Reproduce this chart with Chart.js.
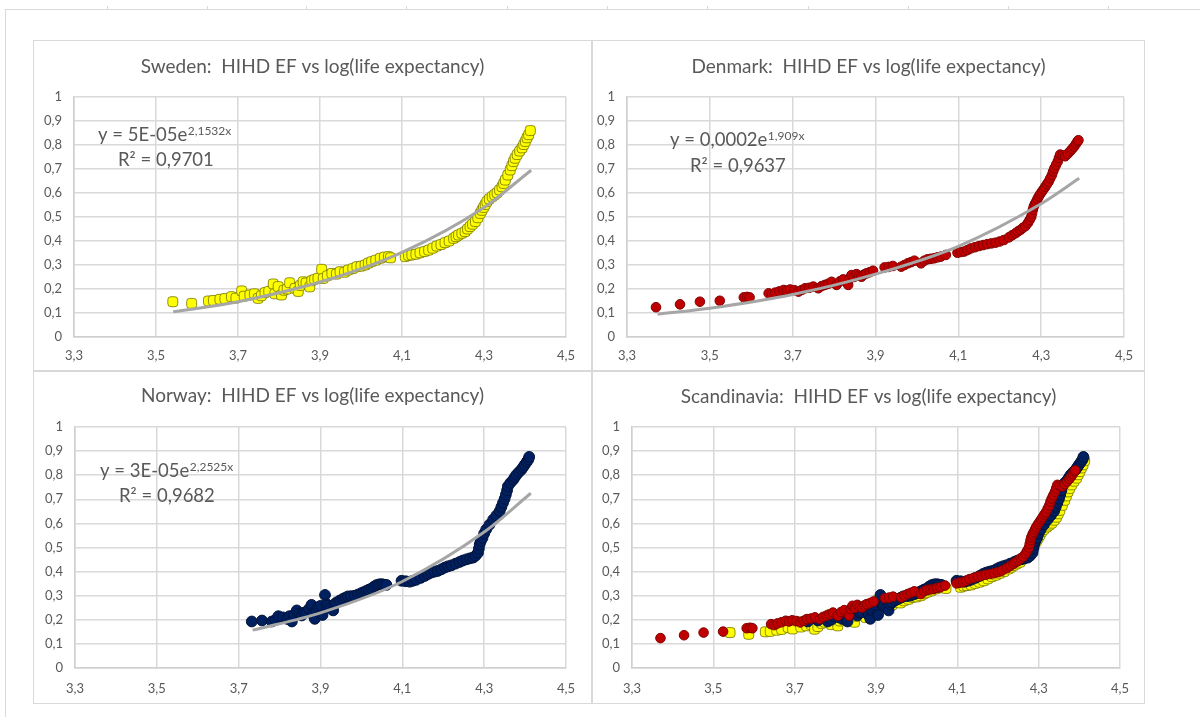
<!DOCTYPE html>
<html>
<head>
<meta charset="utf-8">
<title>HIHD EF vs log(life expectancy)</title>
<script src="https://cdn.jsdelivr.net/npm/chart.js@4/dist/chart.umd.min.js"></script>
<style>
    body {
        margin: 0;
        width: 1200px;
        height: 717px;
        background: #fff;
        position: relative;
        overflow: hidden;
        font-family: Lato, sans-serif;
    }
    .sheet-top { position: absolute; left: 5px; top: 9px; width: 1195px; border-top: 1px solid #d9d9d9; }
    .sheet-left { position: absolute; left: 5px; top: 9px; height: 708px; border-left: 1px solid #d9d9d9; }
    .col-mark { position: absolute; top: 6px; width: 1px; height: 3px; background: #d9d9d9; }
    .panel { position: absolute; border: 1px solid #d9d9d9; background: #fff; }
    .panel canvas { display: block; }
</style>
</head>
<body>
<div class="sheet-top"></div>
<div class="sheet-left"></div>
<div id="marks"></div>

<div class="panel" style="left:33px; top:40px; width:557px; height:329px;"><canvas id="sweden" width="557" height="329"></canvas></div>
<div class="panel" style="left:592px; top:40px; width:551px; height:329px;"><canvas id="denmark" width="551" height="329"></canvas></div>
<div class="panel" style="left:33px; top:371px; width:557px; height:331px;"><canvas id="norway" width="557" height="331"></canvas></div>
<div class="panel" style="left:592px; top:371px; width:551px; height:331px;"><canvas id="scandinavia" width="551" height="331"></canvas></div>

<script>
const xTickLabels = ["3,3", "3,5", "3,7", "3,9", "4,1", "4,3", "4,5"];
const yTickLabels = ["0", "0,1", "0,2", "0,3", "0,4", "0,5", "0,6", "0,7", "0,8", "0,9", "1"];

// Sweden: log(life expectancy) and HIHD EF
const swedenLogLE = [3.541, 3.587, 3.628, 3.640, 3.656, 3.668, 3.684, 3.695, 3.709, 3.715, 3.729, 3.740, 3.749, 3.757, 3.766, 3.775, 3.786, 3.790, 3.798, 3.806,
    3.812, 3.820, 3.826, 3.839, 3.847, 3.852, 3.859, 3.866, 3.875, 3.880, 3.887, 3.895, 3.904, 3.908, 3.918, 3.929, 3.940, 3.949, 3.960, 3.969,
    3.980, 3.990, 4.000, 4.010, 4.018, 4.026, 4.036, 4.047, 4.057, 4.067, 4.072, 4.108, 4.116, 4.124, 4.134, 4.144, 4.155, 4.165, 4.175, 4.185,
    4.195, 4.205, 4.215, 4.226, 4.232, 4.238, 4.246, 4.254, 4.260, 4.266, 4.272, 4.279, 4.285, 4.291, 4.295, 4.299, 4.303, 4.307, 4.313, 4.320,
    4.326, 4.332, 4.338, 4.344, 4.348, 4.352, 4.358, 4.364, 4.368, 4.372, 4.376, 4.381, 4.387, 4.393, 4.397, 4.401, 4.405, 4.409, 4.413];
const swedenEF = [0.147, 0.140, 0.150, 0.152, 0.157, 0.160, 0.168, 0.162, 0.192, 0.170, 0.175, 0.180, 0.161, 0.172, 0.185, 0.190, 0.221, 0.180, 0.210, 0.175,
    0.195, 0.200, 0.226, 0.203, 0.190, 0.215, 0.230, 0.225, 0.209, 0.235, 0.240, 0.245, 0.282, 0.244, 0.255, 0.265, 0.262, 0.272, 0.270, 0.279,
    0.285, 0.293, 0.295, 0.300, 0.308, 0.314, 0.320, 0.328, 0.333, 0.335, 0.330, 0.335, 0.340, 0.342, 0.345, 0.351, 0.356, 0.362, 0.370, 0.379,
    0.385, 0.393, 0.400, 0.411, 0.418, 0.425, 0.432, 0.439, 0.450, 0.460, 0.470, 0.481, 0.497, 0.515, 0.528, 0.540, 0.552, 0.564, 0.575, 0.585,
    0.593, 0.601, 0.613, 0.626, 0.640, 0.654, 0.675, 0.696, 0.714, 0.731, 0.745, 0.760, 0.775, 0.788, 0.802, 0.815, 0.830, 0.843, 0.860];

// Denmark
const denmarkLogLE = [3.370, 3.428, 3.476, 3.524, 3.582, 3.590, 3.596, 3.642, 3.650, 3.658, 3.668, 3.678, 3.686, 3.694, 3.704, 3.714, 3.722, 3.730, 3.740, 3.750,
    3.762, 3.770, 3.778, 3.786, 3.794, 3.806, 3.814, 3.822, 3.834, 3.838, 3.842, 3.848, 3.854, 3.860, 3.866, 3.872, 3.878, 3.886, 3.894, 3.922,
    3.932, 3.942, 3.962, 3.970, 3.978, 3.986, 3.994, 4.010, 4.018, 4.026, 4.034, 4.042, 4.050, 4.058, 4.070, 4.098, 4.106, 4.114, 4.122, 4.130,
    4.140, 4.150, 4.160, 4.170, 4.180, 4.190, 4.200, 4.210, 4.222, 4.230, 4.238, 4.244, 4.250, 4.256, 4.262, 4.268, 4.272, 4.276, 4.278, 4.280,
    4.282, 4.285, 4.288, 4.291, 4.294, 4.298, 4.302, 4.306, 4.310, 4.314, 4.318, 4.322, 4.326, 4.329, 4.332, 4.336, 4.340, 4.343, 4.346, 4.352,
    4.358, 4.364, 4.370, 4.375, 4.380, 4.384, 4.388, 4.390];
const denmarkEF = [0.124, 0.136, 0.147, 0.151, 0.165, 0.167, 0.165, 0.182, 0.178, 0.185, 0.190, 0.196, 0.193, 0.198, 0.195, 0.189, 0.196, 0.203, 0.205, 0.210,
    0.203, 0.212, 0.217, 0.222, 0.230, 0.217, 0.232, 0.240, 0.217, 0.245, 0.258, 0.250, 0.262, 0.255, 0.251, 0.260, 0.265, 0.270, 0.276, 0.290,
    0.292, 0.296, 0.293, 0.300, 0.307, 0.312, 0.318, 0.307, 0.318, 0.324, 0.326, 0.328, 0.332, 0.335, 0.342, 0.351, 0.354, 0.356, 0.362, 0.369,
    0.374, 0.379, 0.383, 0.387, 0.390, 0.393, 0.398, 0.404, 0.415, 0.424, 0.432, 0.440, 0.446, 0.455, 0.462, 0.475, 0.487, 0.500, 0.515, 0.530,
    0.543, 0.555, 0.564, 0.575, 0.585, 0.596, 0.606, 0.616, 0.626, 0.637, 0.647, 0.661, 0.675, 0.690, 0.703, 0.717, 0.731, 0.746, 0.760, 0.757,
    0.753, 0.763, 0.774, 0.784, 0.794, 0.805, 0.815, 0.820];

// Norway
const norwayLogLE = [3.732, 3.757, 3.781, 3.790, 3.797, 3.808, 3.818, 3.824, 3.830, 3.836, 3.842, 3.848, 3.854, 3.860, 3.866, 3.872, 3.878, 3.882, 3.886, 3.890,
    3.894, 3.900, 3.905, 3.911, 3.915, 3.919, 3.925, 3.931, 3.935, 3.939, 3.947, 3.955, 3.961, 3.967, 3.975, 3.984, 3.992, 4.000, 4.006, 4.012,
    4.018, 4.025, 4.031, 4.037, 4.043, 4.049, 4.055, 4.061, 4.098, 4.108, 4.118, 4.126, 4.134, 4.145, 4.155, 4.163, 4.171, 4.179, 4.187, 4.196,
    4.204, 4.212, 4.220, 4.230, 4.240, 4.248, 4.257, 4.265, 4.273, 4.279, 4.285, 4.287, 4.289, 4.292, 4.296, 4.300, 4.305, 4.313, 4.322, 4.330,
    4.338, 4.342, 4.346, 4.350, 4.353, 4.356, 4.358, 4.364, 4.371, 4.375, 4.379, 4.385, 4.391, 4.395, 4.399, 4.404, 4.408, 4.410];
const norwayEF = [0.193, 0.197, 0.193, 0.200, 0.215, 0.210, 0.204, 0.215, 0.193, 0.222, 0.239, 0.225, 0.218, 0.230, 0.232, 0.245, 0.262, 0.220, 0.204, 0.240,
    0.252, 0.258, 0.220, 0.303, 0.265, 0.259, 0.250, 0.239, 0.265, 0.272, 0.280, 0.287, 0.292, 0.297, 0.298, 0.300, 0.305, 0.311, 0.315, 0.320,
    0.325, 0.330, 0.338, 0.344, 0.347, 0.348, 0.346, 0.345, 0.362, 0.360, 0.358, 0.362, 0.366, 0.374, 0.382, 0.390, 0.396, 0.400, 0.403, 0.410,
    0.417, 0.422, 0.426, 0.433, 0.440, 0.446, 0.451, 0.455, 0.458, 0.466, 0.478, 0.495, 0.513, 0.527, 0.540, 0.558, 0.575, 0.595, 0.616, 0.633,
    0.651, 0.668, 0.685, 0.702, 0.719, 0.737, 0.754, 0.768, 0.781, 0.792, 0.802, 0.813, 0.823, 0.833, 0.843, 0.855, 0.865, 0.876];

// exponential trendlines
const swedenTrendX = [3.542, 3.7, 3.9, 4.1, 4.3, 4.415];
const swedenTrendY = [0.105, 0.147, 0.229, 0.353, 0.540, 0.695];
const denmarkTrendX = [3.374, 3.5, 3.7, 3.9, 4.1, 4.3, 4.392];
const denmarkTrendY = [0.095, 0.120, 0.177, 0.262, 0.378, 0.555, 0.661];
const norwayTrendX = [3.734, 3.9, 4.1, 4.3, 4.414];
const norwayTrendY = [0.157, 0.229, 0.359, 0.564, 0.725];

// column marks along the sheet edge
const marks = document.getElementById("marks");
[107, 207, 306, 406, 507, 607, 707, 808, 908, 1008, 1108].forEach(x => {
    const m = document.createElement("div");
    m.className = "col-mark";
    m.style.left = x + "px";
    marks.appendChild(m);
});

Chart.defaults.font.family = "Lato, 'Liberation Sans', sans-serif";
Chart.defaults.color = "#595959";

function points(xs, ys){
    return xs.map((x, i) => ({ x: x, y: ys[i] }));
}

const swedenStyle = { pointStyle: "rectRounded", pointRadius: 5.8, backgroundColor: "#ffff00", borderColor: "rgba(115,115,0,0.8)", borderWidth: 1 };
const denmarkStyle = { pointStyle: "circle", pointRadius: 4.8, backgroundColor: "#c00000", borderColor: "#800000", borderWidth: 1 };
const norwayStyle = { pointStyle: "circle", pointRadius: 5.4, backgroundColor: "#002060", borderColor: "#00133a", borderWidth: 1 };

function scatterSet(label, xs, ys, style){
    return Object.assign({ label: label, data: points(xs, ys), showLine: false }, style);
}

function trendSet(xs, ys){
    return {
        label: "trend",
        data: points(xs, ys),
        showLine: true,
        pointRadius: 0,
        borderColor: "#a6a6a6",
        borderWidth: 3,
        cubicInterpolationMode: "monotone",
        fill: false
    };
}

// title centred on the whole panel, and trendline equation with raised exponent
const panelTextPlugin = {
    id: "panelText",
    afterDraw(chart, args, opts){
        const ctx = chart.ctx;
        ctx.save();
        ctx.fillStyle = "#595959";

        ctx.font = "19px Lato";
        ctx.textAlign = "center";
        ctx.textBaseline = "middle";
        ctx.fillText(opts.title, chart.width / 2, opts.titleY);

        ctx.textAlign = "left";
        ctx.textBaseline = "alphabetic";
        (opts.lines || []).forEach(line => {
            let x = line.x;
            line.parts.forEach(p => {
                ctx.font = p.sup ? "12px Lato" : "18.5px Lato";
                ctx.fillText(p.text, x, p.sup ? line.y - 6 : line.y);
                x += ctx.measureText(p.text).width + 0.5;
            });
        });
        ctx.restore();
    }
};

function buildChart(id, title, datasets, box, equation){
    const gridStyle = { color: "#d9d9d9", lineWidth: 1.5, drawTicks: false };
    const borderStyle = { color: "#cfcfcf", width: 1.5 };

    new Chart(document.getElementById(id), {
        type: "scatter",
        data: { datasets: datasets },
        plugins: [panelTextPlugin],
        options: {
            responsive: false,
            animation: false,
            devicePixelRatio: 1,
            layout: { padding: { left: 0, right: box.padR, top: box.top, bottom: 0 } },
            plugins: {
                legend: { display: false },
                tooltip: { enabled: false },
                title: { display: false },
                panelText: { title: title, titleY: box.titleY, lines: equation }
            },
            scales: {
                x: {
                    type: "linear",
                    min: 3.3,
                    max: 4.5,
                    grid: gridStyle,
                    border: borderStyle,
                    ticks: {
                        stepSize: 0.2,
                        autoSkip: false,
                        maxRotation: 0,
                        padding: box.xPad,
                        font: { size: 13 },
                        callback: (v, i) => xTickLabels[i]
                    },
                    afterFit: s => { s.height = box.xH; }
                },
                y: {
                    type: "linear",
                    min: 0,
                    max: 1,
                    grid: gridStyle,
                    border: borderStyle,
                    ticks: {
                        stepSize: 0.1,
                        padding: 12,
                        font: { size: 13 },
                        callback: (v, i) => yTickLabels[i]
                    },
                    afterFit: s => { s.width = box.yW; }
                }
            }
        }
    });
}

function eq(x, y, main, sup, x2, y2, r2){
    return [
        { x: x, y: y, parts: [{ text: main }, { text: sup, sup: true }] },
        { x: x2, y: y2, parts: [{ text: r2 }] }
    ];
}

buildChart("sweden", "Sweden:  HIHD EF vs log(life expectancy)",
    [trendSet(swedenTrendX, swedenTrendY), scatterSet("Sweden", swedenLogLE, swedenEF, swedenStyle)],
    { yW: 40, padR: 25, top: 56, xH: 33, xPad: 11, titleY: 26 },
    eq(64, 100, "y = 5E-05e", "2,1532x", 84, 125, "R\u00b2 = 0,9701"));

buildChart("denmark", "Denmark:  HIHD EF vs log(life expectancy)",
    [trendSet(denmarkTrendX, denmarkTrendY), scatterSet("Denmark", denmarkLogLE, denmarkEF, denmarkStyle)],
    { yW: 34, padR: 17, top: 56, xH: 33, xPad: 11, titleY: 26 },
    eq(77, 105, "y = 0,0002e", "1,909x", 97, 131, "R\u00b2 = 0,9637"));

buildChart("norway", "Norway:  HIHD EF vs log(life expectancy)",
    [trendSet(norwayTrendX, norwayTrendY), scatterSet("Norway", norwayLogLE, norwayEF, norwayStyle)],
    { yW: 41, padR: 25, top: 55, xH: 35, xPad: 13, titleY: 24 },
    eq(66, 105, "y = 3E-05e", "2,2525x", 85, 130, "R\u00b2 = 0,9682"));

buildChart("scandinavia", "Scandinavia:  HIHD EF vs log(life expectancy)",
    [
        scatterSet("Denmark", denmarkLogLE, denmarkEF, denmarkStyle),
        scatterSet("Norway", norwayLogLE, norwayEF, norwayStyle),
        scatterSet("Sweden", swedenLogLE, swedenEF, swedenStyle)
    ],
    { yW: 39, padR: 24, top: 55, xH: 35, xPad: 13, titleY: 25 },
    null);
</script>
</body>
</html>
